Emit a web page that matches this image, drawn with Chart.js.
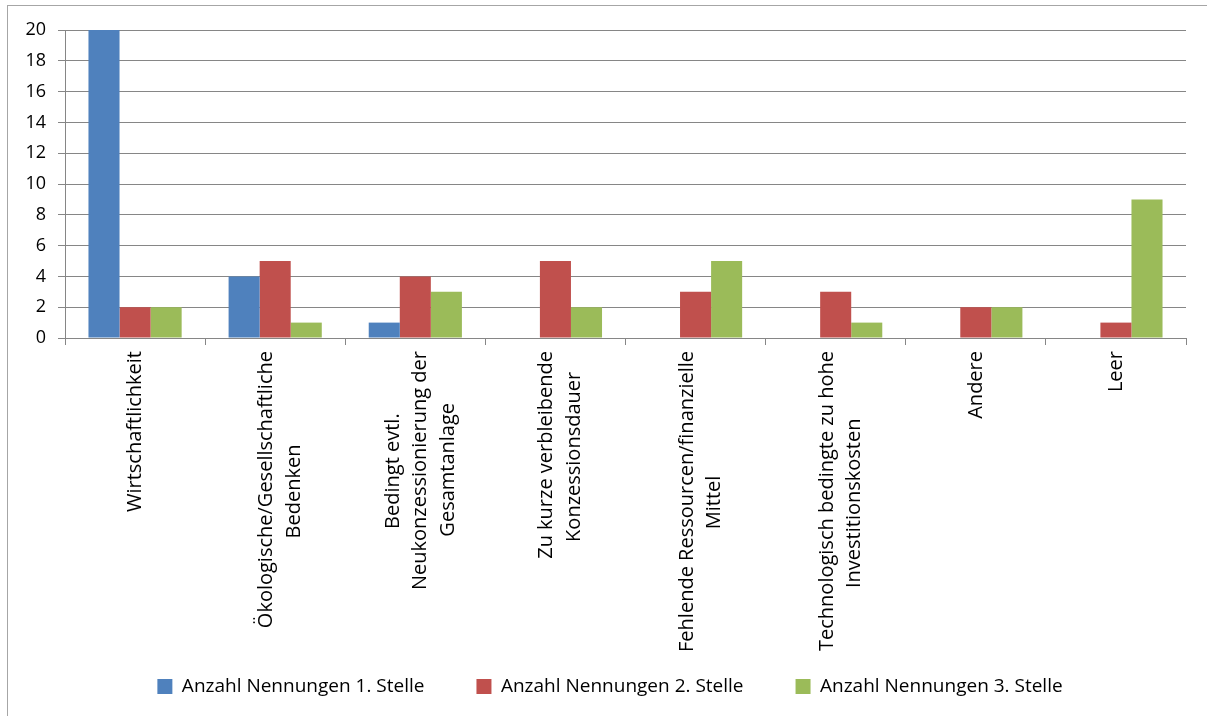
<!DOCTYPE html>
<html>
<head>
<meta charset="utf-8">
<script src="https://cdn.jsdelivr.net/npm/chart.js@4/dist/chart.umd.min.js"></script>
<style>
  html, body { margin: 0; padding: 0; background: #fff; }
  #wrap { position: relative; width: 1207px; height: 716px; }
</style>
</head>
<body>
<div id="wrap"><canvas id="c" width="1207" height="716"></canvas></div>
<script>
const categories = [
  ["Wirtschaftlichkeit"],
  ["Ökologische/Gesellschaftliche", "Bedenken"],
  ["Bedingt evtl.", "Neukonzessionierung der", "Gesamtanlage"],
  ["Zu kurze verbleibende", "Konzessionsdauer"],
  ["Fehlende Ressourcen/finanzielle", "Mittel"],
  ["Technologisch bedingte zu hohe", "Investitionskosten"],
  ["Andere"],
  ["Leer"]
];
const seriesNames = ["Anzahl Nennungen 1. Stelle", "Anzahl Nennungen 2. Stelle", "Anzahl Nennungen 3. Stelle"];
const stelle1 = [20, 4, 1, 0, 0, 0, 0, 0];
const stelle2 = [2, 5, 4, 5, 3, 3, 2, 1];
const stelle3 = [2, 1, 3, 2, 5, 1, 2, 9];
const yTicks = [0, 2, 4, 6, 8, 10, 12, 14, 16, 18, 20];

const FONT = "'Open Sans', 'Liberation Sans', sans-serif";
const xFontSize = 20;
const xLineHeight = 1.375;
const measureCtx = document.createElement('canvas').getContext('2d');
measureCtx.font = xFontSize + "px " + FONT;

// center multi-line rotated labels by padding shorter lines
function centerLines(lines) {
  if (lines.length < 2) return lines;
  const widths = lines.map(l => measureCtx.measureText(l).width);
  const maxW = Math.max(...widths);
  const sp = measureCtx.measureText(' ').width;
  return lines.map((l, i) => {
    const n = Math.round((maxW - widths[i]) / 2 / sp);
    return l + ' '.repeat(n);
  });
}

const helperPlugin = {
  id: 'helper',
  afterUpdate(chart) {
    // let tick labels extend beyond their scale boxes (no clipping)
    Object.values(chart.scales).forEach(s => { s._computeLabelArea = () => undefined; });
    // center multi-line rotated labels on their category
    const sx = chart.scales.x;
    const orig = sx._computeLabelItems.bind(sx);
    const lh = xFontSize * xLineHeight;
    sx._computeLabelItems = function (area) {
      const items = orig(area);
      items.forEach(it => {
        const n = Array.isArray(it.label) ? it.label.length : 1;
        if (n > 1) it.textOffset = (it.textOffset || 0) - ((n - 1) * lh / 2 - 5);
      });
      return items;
    };
    sx._labelItems = null;
  },
  beforeDraw(chart) {
    const ctx = chart.ctx;
    ctx.save();
    ctx.strokeStyle = '#a6a6a6';
    ctx.lineWidth = 1;
    ctx.strokeRect(7.5, 5.5, 1300, 800);
    ctx.restore();
  }
};

new Chart(document.getElementById('c'), {
  type: 'bar',
  data: {
    labels: categories,
    datasets: [
      { label: seriesNames[0], data: stelle1, backgroundColor: '#4F81BD' },
      { label: seriesNames[1], data: stelle2, backgroundColor: '#C0504D' },
      { label: seriesNames[2], data: stelle3, backgroundColor: '#9BBB59' }
    ]
  },
  options: {
    responsive: false,
    animation: false,
    devicePixelRatio: 1,
    layout: { padding: { left: 34, right: 21, top: 30, bottom: 10 } },
    datasets: { bar: { barPercentage: 1, categoryPercentage: 0.665 } },
    plugins: {
      legend: {
        position: 'bottom',
        labels: {
          font: { family: FONT, size: 19 },
          color: '#000',
          boxWidth: 15,
          boxHeight: 15,
          padding: 52
        }
      },
      tooltip: { enabled: false }
    },
    scales: {
      x: {
        afterFit(scale) { scale.height = 287; },
        grid: {
          offset: true,
          drawOnChartArea: false,
          drawTicks: true,
          tickLength: 7,
          color: '#868686'
        },
        border: { display: true, color: '#868686' },
        ticks: {
          autoSkip: false,
          maxRotation: 90,
          minRotation: 90,
          padding: 6,
          color: '#000',
          font: { family: FONT, size: xFontSize, lineHeight: xLineHeight },
          callback(value) {
            const lab = this.getLabelForValue(value);
            const lines = Array.isArray(categories[value]) ? categories[value] : [lab];
            return centerLines(lines);
          }
        }
      },
      y: {
        min: 0,
        max: 20,
        afterFit(scale) { scale.width = 31; },
        afterBuildTicks(scale) { scale.ticks = yTicks.map(v => ({ value: v })); },
        grid: {
          color: '#868686',
          tickLength: 7,
          drawTicks: true
        },
        border: { display: true, color: '#868686' },
        ticks: {
          padding: 12,
          color: '#000',
          font: { family: FONT, size: 18 }
        }
      }
    }
  },
  plugins: [helperPlugin]
});
</script>
</body>
</html>
